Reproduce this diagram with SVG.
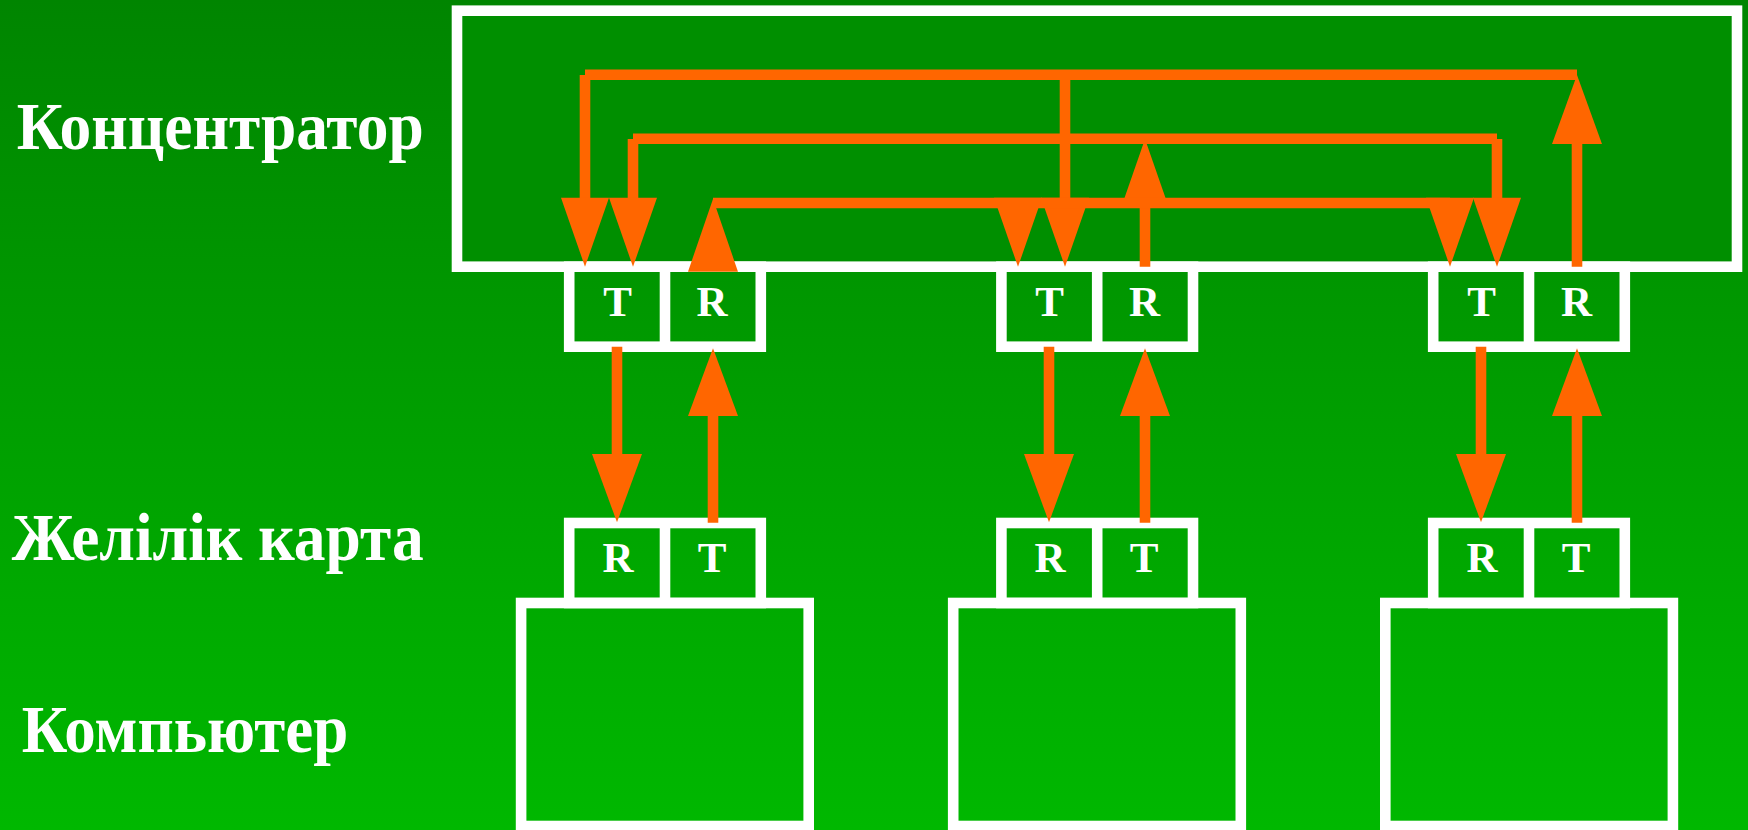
<svg xmlns="http://www.w3.org/2000/svg" width="1748" height="830" viewBox="0 0 1748 830">
  <defs>
    <linearGradient id="bg" x1="0" y1="0" x2="0" y2="1">
      <stop offset="0" stop-color="#008500"/>
      <stop offset="1" stop-color="#00B800"/>
    </linearGradient>
    <style>
      .frame { fill: none; stroke: #FFFFFF; stroke-width: 10.6; }
      .hubframe { fill: #008F00; stroke: #FFFFFF; stroke-width: 10.6; }
      .wire { fill: none; stroke: #FF6600; stroke-width: 10.6; stroke-linecap: butt; }
      .head { fill: #FF6600; stroke: none; }
      .port { font-family: "Liberation Serif", "Times New Roman", serif; font-weight: bold; font-size: 43px; fill: #FFFFFF; text-anchor: middle; }
      .label { font-family: "Liberation Serif", "Times New Roman", serif; font-weight: bold; font-size: 67px; fill: #FFFFFF; }
    </style>
  </defs>

  <rect x="0" y="0" width="1748" height="830" fill="url(#bg)"/>

  <g id="labels">
    <text class="label" x="16.7" y="149.3" textLength="407" lengthAdjust="spacingAndGlyphs">Концентратор</text>
    <text class="label" x="11.7" y="559.5" textLength="412" lengthAdjust="spacingAndGlyphs">Желілік карта</text>
    <text class="label" x="21.7" y="752.4" textLength="326.6" lengthAdjust="spacingAndGlyphs">Компьютер</text>
  </g>

  <g id="hub">
    <rect class="hubframe" x="457" y="10.7" width="1280" height="256"/>
  </g>

  <g id="hub-port-1">
    <rect class="frame" x="569.2" y="266.7" width="191.6" height="80"/>
    <line class="frame" x1="665" y1="266.7" x2="665" y2="346.7"/>
    <text class="port" x="617.5" y="316">T</text>
    <text class="port" x="712" y="316">R</text>
  </g>
  <g id="hub-port-2">
    <rect class="frame" x="1001.4" y="266.7" width="191.6" height="80"/>
    <line class="frame" x1="1097.2" y1="266.7" x2="1097.2" y2="346.7"/>
    <text class="port" x="1049.5" y="316">T</text>
    <text class="port" x="1144.5" y="316">R</text>
  </g>
  <g id="hub-port-3">
    <rect class="frame" x="1433.2" y="266.7" width="191.6" height="80"/>
    <line class="frame" x1="1529" y1="266.7" x2="1529" y2="346.7"/>
    <text class="port" x="1481.5" y="316">T</text>
    <text class="port" x="1576.5" y="316">R</text>
  </g>

  <g id="nic-1">
    <rect class="frame" x="569.2" y="523" width="191.6" height="80"/>
    <line class="frame" x1="665" y1="523" x2="665" y2="603"/>
    <text class="port" x="618" y="572.3">R</text>
    <text class="port" x="712" y="572.3">T</text>
  </g>
  <g id="nic-2">
    <rect class="frame" x="1001.4" y="523" width="191.6" height="80"/>
    <line class="frame" x1="1097.2" y1="523" x2="1097.2" y2="603"/>
    <text class="port" x="1050" y="572.3">R</text>
    <text class="port" x="1144" y="572.3">T</text>
  </g>
  <g id="nic-3">
    <rect class="frame" x="1433.2" y="523" width="191.6" height="80"/>
    <line class="frame" x1="1529" y1="523" x2="1529" y2="603"/>
    <text class="port" x="1482" y="572.3">R</text>
    <text class="port" x="1576" y="572.3">T</text>
  </g>

  <g id="computer-1">
    <rect class="frame" x="521.1" y="603" width="287.6" height="223"/>
  </g>
  <g id="computer-2">
    <rect class="frame" x="953.2" y="603" width="287.6" height="223"/>
  </g>
  <g id="computer-3">
    <rect class="frame" x="1385.3" y="603" width="287.6" height="223"/>
  </g>

  <g id="connectors">
    <!-- bus A: port 3 R to ports 1 and 2 T -->
    <path class="wire" d="M585,74.7 H1577 M585,75 V198 M1065,75 V198 M1577,266.7 V144"/>
    <polygon class="head" points="561,197.7 609,197.7 585,266.7"/>
    <polygon class="head" points="1041,197.7 1089,197.7 1065,266.7"/>
    <polygon class="head" points="1552,144 1602,144 1577,75"/>
    <!-- bus B: port 2 R to ports 1 and 3 T -->
    <path class="wire" d="M633,138.7 H1497 M633,139 V198 M1497,139 V198 M1145,266.7 V205"/>
    <polygon class="head" points="609,197.7 657,197.7 633,266.7"/>
    <polygon class="head" points="1473,197.7 1521,197.7 1497,266.7"/>
    <polygon class="head" points="1121,208 1169,208 1145,139"/>
    <!-- bus C: port 1 R to ports 2 and 3 T -->
    <path class="wire" d="M713,203 H1450"/>
    <polygon class="head" points="688,271.7 738,271.7 713,199"/>
    <polygon class="head" points="994,197.7 1042,197.7 1018,266.7"/>
    <polygon class="head" points="1426,197.7 1474,197.7 1450,266.7"/>

    <!-- hub port to NIC links -->
    <path class="wire" d="M617,346.7 V455 M713,522.7 V415 M1049,346.7 V455 M1145,522.7 V415 M1481,346.7 V455 M1577,522.7 V415"/>
    <polygon class="head" points="592,454 642,454 617,522.3"/>
    <polygon class="head" points="688,416 738,416 713,348.3"/>
    <polygon class="head" points="1024,454 1074,454 1049,522.3"/>
    <polygon class="head" points="1120,416 1170,416 1145,348.3"/>
    <polygon class="head" points="1456,454 1506,454 1481,522.3"/>
    <polygon class="head" points="1552,416 1602,416 1577,348.3"/>
  </g>
</svg>
